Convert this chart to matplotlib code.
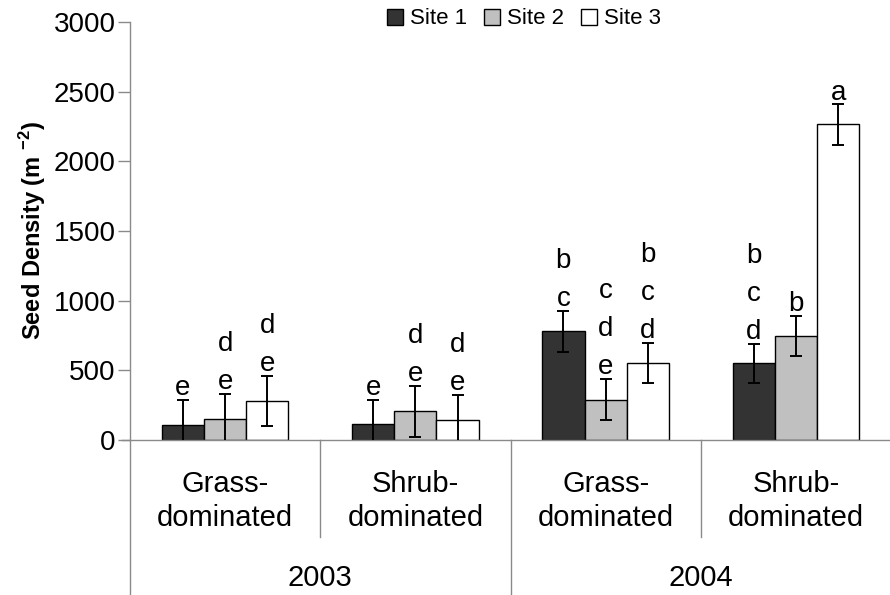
import matplotlib.pyplot as plt
import numpy as np

plt.rcParams['font.family'] = ['Liberation Sans', 'DejaVu Sans']
plt.rcParams['mathtext.fontset'] = 'custom'
plt.rcParams['mathtext.rm'] = 'Liberation Sans'
plt.rcParams['mathtext.bf'] = 'Liberation Sans:bold'

# categories
habitats = ['Grass-\ndominated', 'Shrub-\ndominated', 'Grass-\ndominated', 'Shrub-\ndominated']
years = ['2003', '2004']
sites = ['Site 1', 'Site 2', 'Site 3']

# seed density (m-2) per site
site1 = [110, 115, 780, 550]
site2 = [150, 205, 290, 745]
site3 = [280, 140, 555, 2265]
err1 = [180, 175, 148, 140]
err2 = [180, 185, 148, 145]
err3 = [180, 185, 143, 145]

# significance letters
let1 = ['e', 'e', 'b\nc', 'b\nc\nd']
let2 = ['d\ne', 'd\ne', 'c\nd\ne', 'b']
let3 = ['d\ne', 'd\ne', 'b\nc\nd', 'a']

colors = ['#333333', '#c0c0c0', '#ffffff']
grey = '#8a8a8a'

fig = plt.figure(figsize=(8.9, 5.95), dpi=100)
ax = fig.add_axes([130 / 890, 1 - 440 / 595, 761 / 890, 418 / 595])

x = np.arange(len(habitats))
w = 0.222
vals = [site1, site2, site3]
errs = [err1, err2, err3]
lets = [let1, let2, let3]
for i in range(3):
    xs = x + (i - 1) * w
    ax.bar(xs, vals[i], w, color=colors[i], edgecolor='black', linewidth=1.0,
           label=sites[i], zorder=2)
    ax.errorbar(xs, vals[i], yerr=errs[i], fmt='none', ecolor='black',
                elinewidth=1.4, capsize=4, capthick=1.4, zorder=3)
    for xx, v, e, t in zip(xs, vals[i], errs[i], lets[i]):
        ax.annotate(t, (xx, v + e), xytext=(0, -1), textcoords='offset points',
                    ha='center', va='bottom', fontsize=20, linespacing=1.6)

ax.set_xlim(-0.5, 3.5)
ax.set_ylim(0, 3000)
ax.set_yticks(np.arange(0, 3001, 500))
ax.set_xticks([])
ax.tick_params(axis='y', labelsize=20, length=9, width=1, color=grey, pad=1.5)
for s in ['top', 'right']:
    ax.spines[s].set_visible(False)
for s in ['left', 'bottom']:
    ax.spines[s].set_color(grey)
    ax.spines[s].set_linewidth(1.0)
ax.spines['bottom'].set_bounds(-0.54, 3.5)

ax.set_ylabel(r'Seed Density (m $^{\mathbf{-2}}$)', fontsize=17, fontweight='bold', labelpad=4)

# multi-level category axis below the plot
tr = ax.get_xaxis_transform()
ax.plot([-0.5, -0.5], [0, -0.38], color=grey, lw=1, transform=tr, clip_on=False)
for b in [0.5, 2.5]:
    ax.plot([b, b], [0, -0.232], color=grey, lw=1, transform=tr, clip_on=False)
ax.plot([1.5, 1.5], [0, -0.38], color=grey, lw=1, transform=tr, clip_on=False)
for xx, h in zip(x, habitats):
    ax.text(xx, -0.146, h, transform=tr, ha='center', va='center', fontsize=21,
            linespacing=1.3)
for k, yr in enumerate(years):
    ax.text(0.5 + 2 * k, -0.33, yr, transform=tr, ha='center', va='center', fontsize=21)

fig.legend(loc='center', bbox_to_anchor=(524 / 890, 1 - 19 / 595), ncol=3,
           frameon=False, fontsize=16, handlelength=0.7, handleheight=0.7,
           handletextpad=0.3, columnspacing=0.8)

fig.savefig('out.png', dpi=100)
